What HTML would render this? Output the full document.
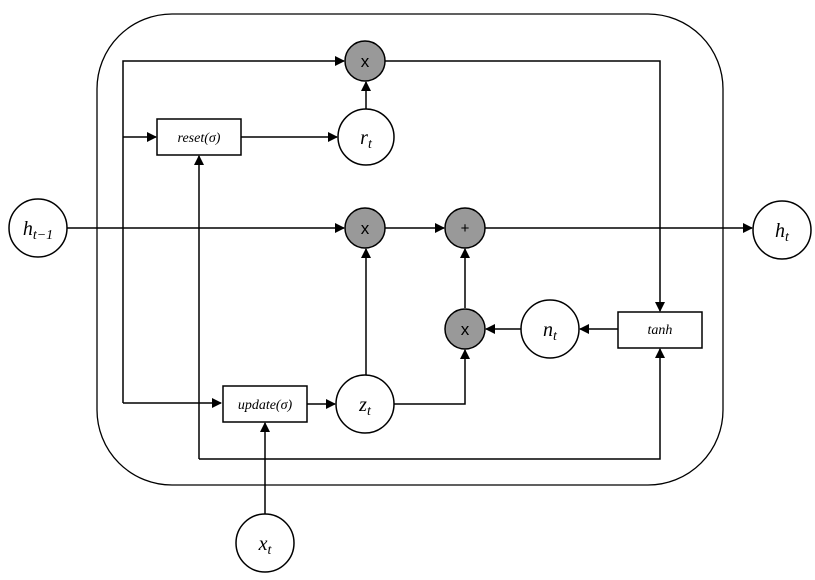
<!DOCTYPE html>
<html><head><meta charset="utf-8"><style>
html,body{margin:0;padding:0;background:#fff;}
svg{display:block;}
text{font-family:"Liberation Serif",serif;font-style:italic;}
.g{font-family:"Liberation Sans",sans-serif;font-style:normal;}
</style></head><body>
<svg width="815" height="580" viewBox="0 0 815 580" xmlns="http://www.w3.org/2000/svg">
<defs><marker id="a" markerWidth="10" markerHeight="10" refX="9" refY="5" orient="auto" markerUnits="userSpaceOnUse"><path d="M0,0 L10,5 L0,10 z" fill="#000"/></marker></defs>
<g fill="none" stroke="#000" stroke-width="1.5">
<rect x="97" y="14" width="626" height="471" rx="75" ry="75" stroke-width="1.3"/>
<!-- top line -->
<path d="M123,403 L123,61 L344,61" marker-end="url(#a)"/>
<path d="M385,61 L660,61 L660,311" marker-end="url(#a)"/>
<path d="M123,137 L156,137" marker-end="url(#a)"/>
<path d="M241,137 L337,137" marker-end="url(#a)"/>
<path d="M366,109 L366,82" marker-end="url(#a)"/>
<path d="M123,403 L221,403" marker-end="url(#a)"/>
<path d="M307,404 L335,404" marker-end="url(#a)"/>
<path d="M67,228 L344,228" marker-end="url(#a)"/>
<path d="M385,228 L444,228" marker-end="url(#a)"/>
<path d="M485,228 L752,228" marker-end="url(#a)"/>
<path d="M366,375 L366,249" marker-end="url(#a)"/>
<path d="M394,404 L465,404 L465,350" marker-end="url(#a)"/>
<path d="M465,308 L465,249" marker-end="url(#a)"/>
<path d="M521,329 L486,329" marker-end="url(#a)"/>
<path d="M618,329 L580,329" marker-end="url(#a)"/>
<path d="M199,459 L199,156" marker-end="url(#a)"/>
<path d="M199,459 L660,459 L660,349" marker-end="url(#a)"/>
<path d="M265,514 L265,423" marker-end="url(#a)"/>
</g>
<g stroke="#000" stroke-width="1.5">
<rect x="157" y="119" width="84" height="36" fill="#fff"/>
<rect x="223" y="386" width="84" height="36" fill="#fff"/>
<rect x="618" y="312" width="84" height="36" fill="#fff"/>
<circle cx="365" cy="61" r="20" fill="#999"/>
<circle cx="365" cy="228" r="20" fill="#999"/>
<circle cx="465" cy="228" r="20" fill="#999"/>
<circle cx="465" cy="329" r="20" fill="#999"/>
<circle cx="366" cy="137" r="28" fill="#fff"/>
<circle cx="38" cy="228" r="29" fill="#fff"/>
<circle cx="782" cy="230" r="29" fill="#fff"/>
<circle cx="550" cy="329" r="29" fill="#fff"/>
<circle cx="365" cy="404" r="29" fill="#fff"/>
<circle cx="265" cy="543" r="29" fill="#fff"/>
</g>
<g font-size="14" text-anchor="middle">
<text class="g" x="365" y="67" font-size="17">x</text>
<text class="g" x="365" y="234" font-size="17">x</text>
<text class="g" x="465" y="233" font-size="15">+</text>
<text class="g" x="465" y="335" font-size="17">x</text>
<text x="199" y="142">reset(σ)</text>
<text x="265" y="409">update(σ)</text>
<text x="660" y="334">tanh</text>
<text x="366" y="144" font-size="20">r<tspan font-size="14" dy="4">t</tspan></text>
<text x="550" y="336" font-size="20">n<tspan font-size="14" dy="4">t</tspan></text>
<text x="365" y="411" font-size="20">z<tspan font-size="14" dy="4">t</tspan></text>
<text x="265" y="550" font-size="20">x<tspan font-size="14" dy="4">t</tspan></text>
<text x="782" y="237" font-size="20">h<tspan font-size="14" dy="4">t</tspan></text>
<text x="38" y="235" font-size="20">h<tspan font-size="14" dy="4">t−1</tspan></text>
</g>
</svg>
</body></html>
